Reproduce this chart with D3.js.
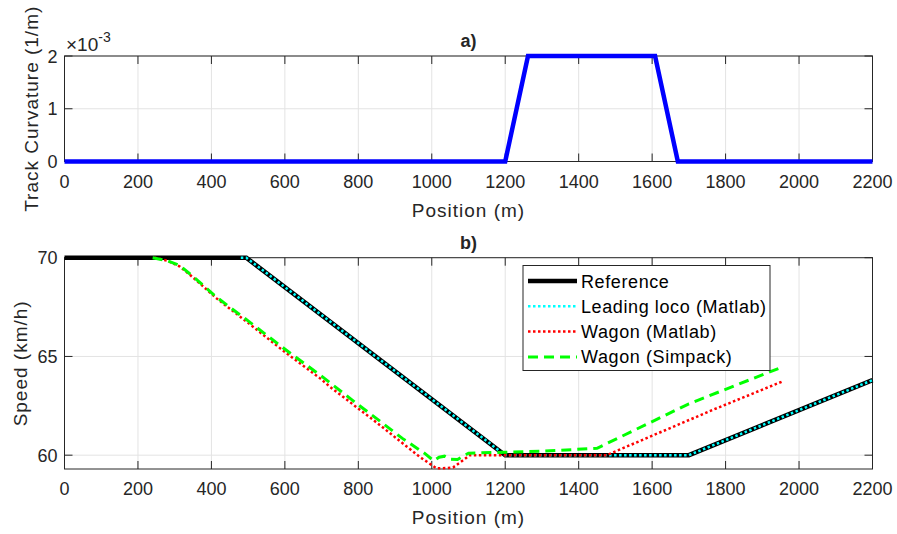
<!DOCTYPE html>
<html>
<head>
<meta charset="utf-8">
<script src="https://cdn.jsdelivr.net/npm/d3@7"></script>
<style>
  html, body { margin: 0; padding: 0; background: #fff; overflow: hidden; }
  text { font-family: "Liberation Sans", Arial, sans-serif; fill: #262626; }
</style>
</head>
<body>
<svg id="chart" width="897" height="534"></svg>
<script>
// ---- data ----
var xTicks = [0, 200, 400, 600, 800, 1000, 1200, 1400, 1600, 1800, 2000, 2200];
var curvTicks = [0, 1, 2];          // x 10^-3
var speedTicks = [60, 65, 70];

// track curvature (x 10^-3 1/m)
var curvPos = [0, 1200, 1262, 1608, 1670, 2200];
var curvVal = [0, 0, 2, 2, 0, 0];

// reference speed
var refPos = [0, 495, 1200, 1700, 2200];
var refVal = [70, 70, 60, 60, 63.8];

// leading loco (Matlab)
var locoPos = [480, 495, 1200, 1700, 2200];
var locoVal = [70, 70, 60, 60, 63.8];

// wagon (Matlab)
var wagonMPos = [245, 280, 314, 350, 414, 500, 605, 696, 723, 859, 968, 1000, 1013, 1040, 1058, 1086, 1104, 1200, 1476, 1766, 1953];
var wagonMVal = [70, 69.85, 69.55, 69.0, 67.94, 66.7, 65.15, 63.89, 63.46, 61.52, 59.9, 59.5, 59.33, 59.35, 59.38, 59.75, 60.0, 60.0, 60.0, 62.3, 63.72];

// wagon (Simpack)
var wagonSPos = [240, 280, 314, 350, 414, 500, 605, 700, 800, 850, 920, 980, 1005, 1020, 1035, 1050, 1070, 1100, 1200, 1300, 1450, 1700, 1948];
var wagonSVal = [70, 69.85, 69.6, 69.05, 68.0, 66.8, 65.3, 64.0, 62.55, 61.85, 60.85, 60.1, 59.72, 59.9, 59.95, 59.8, 59.78, 60.1, 60.15, 60.2, 60.35, 62.6, 64.42];

var legendNames = ["Reference", "Leading loco (Matlab)", "Wagon (Matlab)", "Wagon (Simpack)"];

// ---- layout ----
var svg = d3.select("#chart");
var axisCol = "#262626", gridCol = "#e3e3e3";
var left = 64.5, right = 872.5;

var x = d3.scaleLinear().domain([0, 2200]).range([left, right]);
var yA = d3.scaleLinear().domain([0, 2]).range([161.5, 56]);
var yB = d3.scaleLinear().domain([59.3, 70]).range([469, 257.7]);

function zip(p, v) { return p.map(function(d, i) { return [d, v[i]]; }); }

function drawAxes(y, yTicks, top, bottom, title, ylabel, ylabelX) {
  var g = svg.append("g");
  // grid
  g.selectAll(".gx").data(xTicks.slice(1, -1)).enter().append("line")
    .attr("x1", function(d) { return x(d); }).attr("x2", function(d) { return x(d); })
    .attr("y1", top).attr("y2", bottom)
    .attr("stroke", gridCol).attr("stroke-width", 1);
  g.selectAll(".gy").data(yTicks).enter().append("line")
    .attr("x1", left).attr("x2", right)
    .attr("y1", function(d) { return y(d); }).attr("y2", function(d) { return y(d); })
    .attr("stroke", gridCol).attr("stroke-width", 1);
  // box
  g.append("rect").attr("x", left).attr("y", top)
    .attr("width", right - left).attr("height", bottom - top)
    .attr("fill", "none").attr("stroke", axisCol).attr("stroke-width", 1);
  // ticks (inward, on all sides)
  var tl = 8;
  xTicks.forEach(function(d) {
    g.append("line").attr("x1", x(d)).attr("x2", x(d)).attr("y1", bottom).attr("y2", bottom - tl).attr("stroke", axisCol);
    g.append("line").attr("x1", x(d)).attr("x2", x(d)).attr("y1", top).attr("y2", top + tl).attr("stroke", axisCol);
    g.append("text").attr("x", x(d)).attr("y", bottom + 26)
      .attr("text-anchor", "middle").attr("font-size", 18).text(d);
  });
  yTicks.forEach(function(d) {
    g.append("line").attr("x1", left).attr("x2", left + tl).attr("y1", y(d)).attr("y2", y(d)).attr("stroke", axisCol);
    g.append("line").attr("x1", right).attr("x2", right - tl).attr("y1", y(d)).attr("y2", y(d)).attr("stroke", axisCol);
    g.append("text").attr("x", left - 7).attr("y", y(d) + 6.5)
      .attr("text-anchor", "end").attr("font-size", 18).text(d);
  });
  // labels
  g.append("text").attr("x", (left + right) / 2).attr("y", bottom + 55)
    .attr("text-anchor", "middle").attr("font-size", 19).attr("letter-spacing", 1).text("Position (m)");
  g.append("text").attr("x", (left + right) / 2).attr("y", top - 9)
    .attr("text-anchor", "middle").attr("font-size", 18).attr("font-weight", "bold").text(title);
  g.append("text")
    .attr("transform", "translate(" + ylabelX + "," + ((top + bottom) / 2) + ") rotate(-90)")
    .attr("text-anchor", "middle").attr("font-size", 19).attr("letter-spacing", 1).text(ylabel);
}

// ---- panel a ----
drawAxes(yA, curvTicks, 56, 161.5, "a)", "Track Curvature (1/m)", 38);
var exp = svg.append("text").attr("x", 66).attr("y", 50.5).attr("font-size", 19);
exp.append("tspan").text("\u00d710");
exp.append("tspan").attr("dy", -9).attr("font-size", 14).text("-3");

var lineA = d3.line().x(function(d) { return x(d[0]); }).y(function(d) { return yA(d[1]); });
svg.append("path").datum(zip(curvPos, curvVal)).attr("d", lineA)
  .attr("fill", "none").attr("stroke", "#0000ff").attr("stroke-width", 4.5);

// ---- panel b ----
drawAxes(yB, speedTicks, 257.7, 469, "b)", "Speed (km/h)", 27);
var lineB = d3.line().x(function(d) { return x(d[0]); }).y(function(d) { return yB(d[1]); });

var series = [
  { pts: zip(refPos, refVal), col: "#000000", w: 4.5, dash: null },
  { pts: zip(locoPos, locoVal), col: "#00ffff", w: 2.5, dash: "2.5,2.5" },
  { pts: zip(wagonMPos, wagonMVal), col: "#ff0000", w: 2.5, dash: "2.5,2.5" },
  { pts: zip(wagonSPos, wagonSVal), col: "#00ff00", w: 3, dash: "10,6" }
];
series.forEach(function(s) {
  svg.append("path").datum(s.pts).attr("d", lineB)
    .attr("fill", "none").attr("stroke", s.col).attr("stroke-width", s.w)
    .attr("stroke-dasharray", s.dash);
});

// legend
var lg = svg.append("g").attr("transform", "translate(523,265.5)");
lg.append("rect").attr("width", 247).attr("height", 105)
  .attr("fill", "#fff").attr("stroke", "#262626").attr("stroke-width", 1);
series.forEach(function(s, i) {
  var yy = 15.5 + i * 25.3;
  lg.append("line").attr("x1", 5).attr("x2", 54).attr("y1", yy).attr("y2", yy)
    .attr("stroke", s.col).attr("stroke-width", s.w).attr("stroke-dasharray", s.dash);
  lg.append("text").attr("x", 58).attr("y", yy + 6.5).attr("font-size", 18)
    .attr("letter-spacing", 0.6).style("fill", "#000").text(legendNames[i]);
});
</script>
</body>
</html>
